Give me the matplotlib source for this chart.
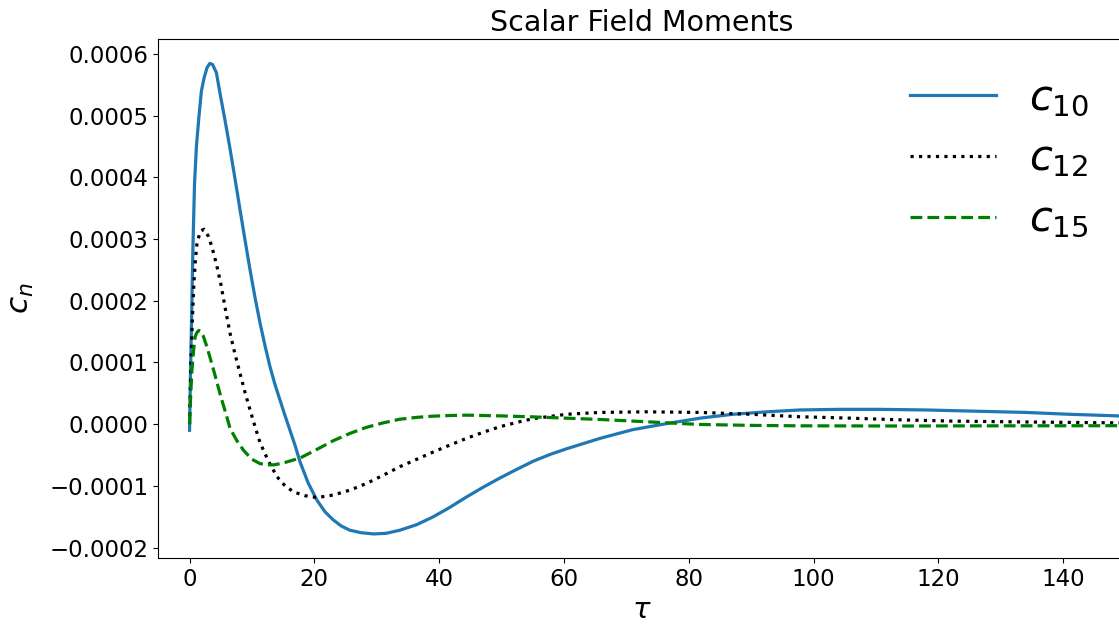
import numpy as np
import matplotlib.pyplot as plt

# values
tau_10 = [0, 0.15, 0.33, 0.55, 0.8, 1.1, 1.5, 1.9, 2.3, 2.8, 3.25, 3.7, 4.3, 5.0, 5.7, 6.5, 7.3, 8.1, 8.9,
          9.7, 10.5, 11.3, 12.1, 12.9, 13.7, 14.5, 15.3, 16.1, 16.9, 17.7, 19.0, 20.4, 21.7, 23.0, 24.3,
          25.7, 27.5, 29.5, 31.5, 33.7, 36.4, 39.1, 41.7, 44.4, 47.1, 49.8, 52.5, 55.1, 57.8, 60.4, 65.8,
          71.0, 76.5, 82.0, 87.1, 92.5, 97.8, 104.0, 110.7, 118.0, 126.0, 134.0, 141.0, 150.0]
c_10 = [-0.00001, 0.00008, 0.000174, 0.00029, 0.00039, 0.00045, 0.000498, 0.00054, 0.00056, 0.000578,
        0.000585, 0.000583, 0.00057, 0.00053, 0.000492, 0.000446, 0.000397, 0.000347, 0.000298,
        0.00025, 0.000205, 0.000164, 0.000127, 0.000093, 0.000064, 0.000039, 0.000014, -0.00001,
        -0.000034, -0.000061, -0.000095, -0.000123, -0.000142, -0.000155, -0.000165, -0.000172,
        -0.000176, -0.000178, -0.000177, -0.000172, -0.000163, -0.00015, -0.000135, -0.000118,
        -0.000102, -0.000087, -0.000073, -0.00006, -0.000049, -0.00004, -0.000023, -0.000009, 0.000001,
        0.00001, 0.000016, 0.00002, 0.000023, 0.000024, 0.000024, 0.000023, 0.000021, 0.000019,
        0.000016, 0.000013]

tau_12 = [0, 0.2, 0.45, 0.7, 0.95, 1.2, 1.7, 2.3, 3.0, 3.6, 4.3, 5.0, 5.7, 6.5, 7.3, 8.1, 8.9, 9.7, 10.5,
          11.3, 12.6, 14.0, 15.3, 16.7, 18.5, 20.4, 23.0, 25.7, 28.4, 31.0, 33.7, 36.4, 39.1, 41.7, 44.4,
          47.1, 49.8, 52.5, 55.1, 60.4, 65.8, 73.0, 81.8, 90.0, 97.8, 105.0, 113.9, 122.0, 130.0, 139.0,
          150.0]
c_12 = [0.0, 0.00009, 0.00017, 0.000228, 0.000268, 0.000293, 0.000312, 0.000316, 0.000305, 0.000287,
        0.00026, 0.000228, 0.000189, 0.000147, 0.000113, 0.000082, 0.000051, 0.000023, -0.000004,
        -0.00003, -0.000059, -0.000085, -0.0001, -0.00011, -0.000116, -0.000119, -0.000115, -0.000107,
        -0.000096, -0.000083, -0.000069, -0.000057, -0.000045, -0.000034, -0.000023, -0.000013,
        -0.000004, 0.000003, 0.000009, 0.000016, 0.000019, 0.00002, 0.000019, 0.000016, 0.000012,
        0.00001, 0.000007, 0.000005, 0.000004, 0.000003, 0.000002]

tau_15 = [0, 0.2, 0.4, 0.65, 0.9, 1.2, 1.5, 1.85, 2.2, 2.8, 3.4, 4.2, 5.0, 5.8, 6.5, 7.6, 8.7, 10.0, 11.3,
          12.4, 13.5, 15.0, 17.7, 20.4, 23.0, 25.7, 28.4, 31.0, 33.7, 36.4, 39.1, 41.7, 44.4, 47.1, 49.8,
          55.1, 60.4, 65.8, 73.0, 81.8, 90.0, 97.8, 113.9, 130.0, 150.0]
c_15 = [0.0, 0.00005, 0.00009, 0.00012, 0.000142, 0.000149, 0.000152, 0.00015, 0.000143, 0.000125,
        0.000104, 0.000075, 0.000045, 0.000018, -0.000007, -0.000027, -0.000043, -0.000057, -0.000064,
        -0.000066, -0.000066, -0.000063, -0.000055, -0.000041, -0.000027, -0.000015, -0.000005,
        0.000002, 0.000008, 0.000011, 0.000013, 0.000014, 0.0000146, 0.000014, 0.0000134, 0.0000118,
        0.0000097, 0.0000076, 0.000004, -0.0000005, -0.000002, -0.0000027, -0.000003, -0.0000027,
        -0.0000025]

fig = plt.figure(figsize=(11.19, 6.29), dpi=100)
ax = fig.add_axes([0.1415, 0.1129, 0.8643, 0.8246])

ax.plot(tau_10, c_10, color="#1f77b4", lw=2.3, label=r"$c_{10}$")
ax.plot(tau_12, c_12, color="black", lw=2.3, ls=":", label=r"$c_{12}$")
ax.plot(tau_15, c_15, color="green", lw=2.3, ls="--", label=r"$c_{15}$")

ax.set_xlim(-5, 150)
ax.set_ylim(-0.000217, 0.000624)
ax.set_xticks([0, 20, 40, 60, 80, 100, 120, 140])
ax.tick_params(labelsize=16.5)
ax.set_yticks([-0.0002, -0.0001, 0.0, 0.0001, 0.0002, 0.0003, 0.0004, 0.0005, 0.0006])
ax.set_yticklabels(["\u22120.0002", "\u22120.0001", "0.0000", "0.0001", "0.0002", "0.0003",
                    "0.0004", "0.0005", "0.0006"])

ax.set_xlabel(r"$\tau$", fontsize=21)
ax.set_ylabel(r"$c_n$", fontsize=22.5, labelpad=9.5)
ax.set_title("Scalar Field Moments", fontsize=20.5)

ax.legend(loc="upper right", fontsize=30, frameon=False, handlelength=2.05,
          bbox_to_anchor=(1.001, 1.0), labelspacing=0.45)

fig.savefig("out.png", dpi=100)
